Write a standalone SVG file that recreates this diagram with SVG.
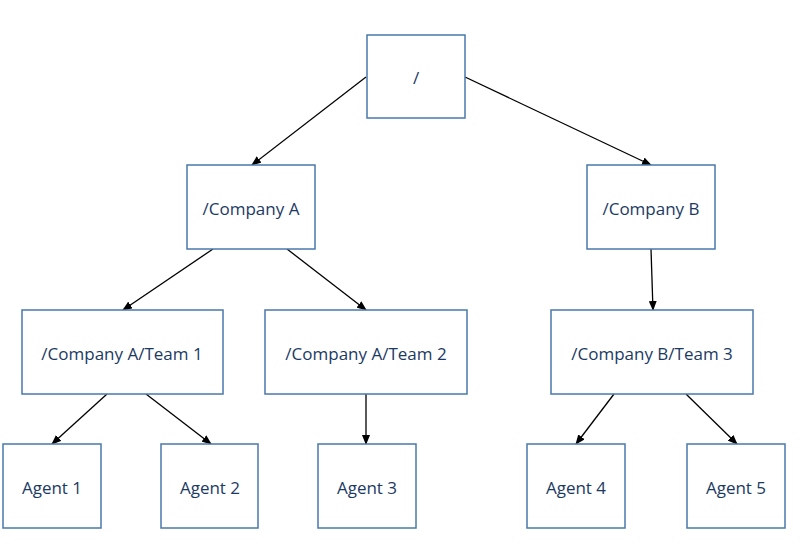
<svg xmlns="http://www.w3.org/2000/svg" width="800" height="559" viewBox="0 0 800 559">
<style>
.b{fill:#fff;stroke:#4a78ab;stroke-width:1.5}
.t{font-family:"Open Sans","Liberation Sans",sans-serif;font-size:17px;fill:#1b3a63;text-anchor:middle;dominant-baseline:central}
.c{stroke:#000;stroke-width:1.3;fill:none;marker-end:url(#a)}
</style>
<defs><marker id="a" markerWidth="10" markerHeight="8" refX="9" refY="4" orient="auto" markerUnits="userSpaceOnUse"><path d="M0,0L10,4L0,8z" fill="#000"/></marker></defs>
<rect width="800" height="559" fill="#fff"/>
<g id="connectors">
<line class="c" x1="366" y1="77" x2="252" y2="165"/>
<line class="c" x1="465" y1="77" x2="651" y2="165"/>
<line class="c" x1="213" y1="249" x2="123" y2="310"/>
<line class="c" x1="287" y1="249" x2="366" y2="310"/>
<line class="c" x1="651" y1="249" x2="653" y2="310"/>
<line class="c" x1="107" y1="394" x2="52" y2="444"/>
<line class="c" x1="146" y1="394" x2="211" y2="444"/>
<line class="c" x1="366" y1="394" x2="366" y2="444"/>
<line class="c" x1="614" y1="394" x2="576" y2="444"/>
<line class="c" x1="686" y1="394" x2="737" y2="444"/>
</g>
<g id="root"><rect class="b" x="367" y="35" width="98" height="83"/><text class="t" x="416" y="77">/</text></g>
<g id="companyA"><rect class="b" x="187" y="165" width="128" height="84"/><text class="t" x="251" y="208">/Company A</text></g>
<g id="companyB"><rect class="b" x="587" y="165" width="128" height="84"/><text class="t" x="651" y="208">/Company B</text></g>
<g id="team1"><rect class="b" x="22" y="310" width="201" height="84"/><text class="t" x="122" y="353">/Company A/Team 1</text></g>
<g id="team2"><rect class="b" x="265" y="310" width="202" height="84"/><text class="t" x="366" y="353">/Company A/Team 2</text></g>
<g id="team3"><rect class="b" x="551" y="310" width="202" height="84"/><text class="t" x="652" y="353">/Company B/Team 3</text></g>
<g id="agent1"><rect class="b" x="3" y="444" width="98" height="84"/><text class="t" x="52" y="487">Agent 1</text></g>
<g id="agent2"><rect class="b" x="161" y="444" width="97" height="84"/><text class="t" x="210" y="487">Agent 2</text></g>
<g id="agent3"><rect class="b" x="318" y="444" width="98" height="84"/><text class="t" x="367" y="487">Agent 3</text></g>
<g id="agent4"><rect class="b" x="527" y="444" width="98" height="84"/><text class="t" x="576" y="487">Agent 4</text></g>
<g id="agent5"><rect class="b" x="687" y="444" width="98" height="84"/><text class="t" x="736" y="487">Agent 5</text></g>
</svg>
